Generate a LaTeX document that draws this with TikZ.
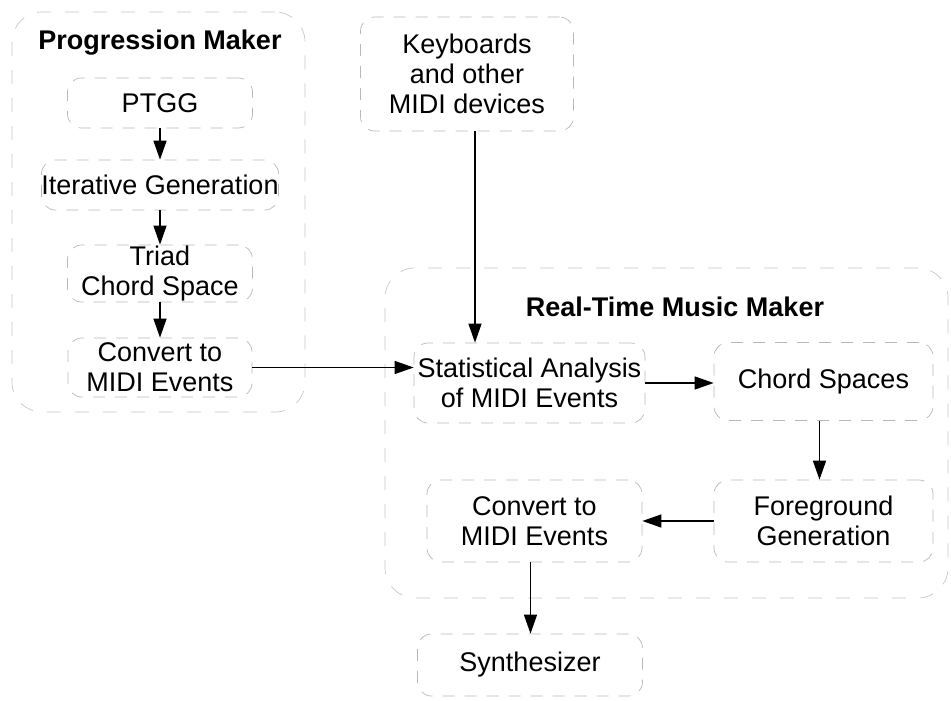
\documentclass[tikz,border=0pt]{standalone}
\usepackage{fontspec}
\setmainfont{Liberation Sans}
\usetikzlibrary{arrows.meta}
\begin{document}
\begin{tikzpicture}[x=1pt,y=-1pt,
  txt/.style={font=\fontsize{27}{30}\selectfont, align=center, text=black},
  box/.style={txt, draw=black!28, line width=0.7pt, rounded corners=14pt,
    dash pattern=on 12pt off 10pt, inner sep=0pt},
  outer/.style={draw=black!22, line width=0.7pt, rounded corners=30pt,
    dash pattern=on 14pt off 14pt, inner sep=0pt},
  ttl/.style={font=\fontsize{27}{30}\selectfont\bfseries, text=black},
  arr/.style={draw=black, line width=1.4pt, -{Triangle[length=19pt,width=13pt]}}]
\useasboundingbox (0,0) rectangle (951,701);

% outer groups
\node[outer, minimum width=293pt, minimum height=400pt] (pm) at (158.5,212) {};
\node[outer, minimum width=563pt, minimum height=330pt] (rt) at (666.5,433) {};
\node[ttl] (pmtitle) at (160,43) {Progression Maker};
\node[ttl] (rttitle) at (675,307) {Real-Time Music Maker};

% progression maker
\node[box, minimum width=185pt, minimum height=50pt] (ptgg) at (160,103) {PTGG};
\node[box, minimum width=236pt, minimum height=50pt] (iter) at (160,185) {Iterative Generation};
\node[box, minimum width=185pt, minimum height=57pt] (triad) at (160,273.5) {Triad\\Chord Space};
\node[box, minimum width=184pt, minimum height=59pt] (conv1) at (160,367.5) {Convert to\\MIDI Events};

% input devices
\node[box, minimum width=213pt, minimum height=114pt] (kb) at (467,74) {Keyboards\\and other\\MIDI devices};

% real-time music maker
\node[box, minimum width=231pt, minimum height=80pt] (stat) at (529.5,383) {Statistical Analysis\\of MIDI Events};
\node[box, minimum width=219pt, minimum height=78pt] (chord) at (823.5,381.5) {Chord Spaces};
\node[box, minimum width=219pt, minimum height=82pt] (fg) at (823.5,521) {Foreground\\Generation};
\node[box, minimum width=215pt, minimum height=82pt] (conv2) at (534.5,521) {Convert to\\MIDI Events};
\node[box, minimum width=225pt, minimum height=62pt] (synth) at (530,665) {Synthesizer};

% connectors
\draw[arr] (ptgg.south) -- (iter.north);
\draw[arr] (iter.south) -- (triad.north);
\draw[arr] (triad.south) -- (conv1.north);
\draw[arr] (conv1.east) -- (stat.west |- conv1.east);
\draw[arr] ([xshift=8pt]kb.south) -- ([xshift=8pt]kb.south |- stat.north);
\draw[arr] (stat.east) -- (chord.west |- stat.east);
\draw[arr] ([xshift=-4pt]chord.south) -- ([xshift=-4pt]fg.north);
\draw[arr] (fg.west) -- (conv2.east);
\draw[arr] ([xshift=-4pt]conv2.south) -- ([xshift=-4pt]conv2.south |- synth.north);
\end{tikzpicture}
\end{document}
